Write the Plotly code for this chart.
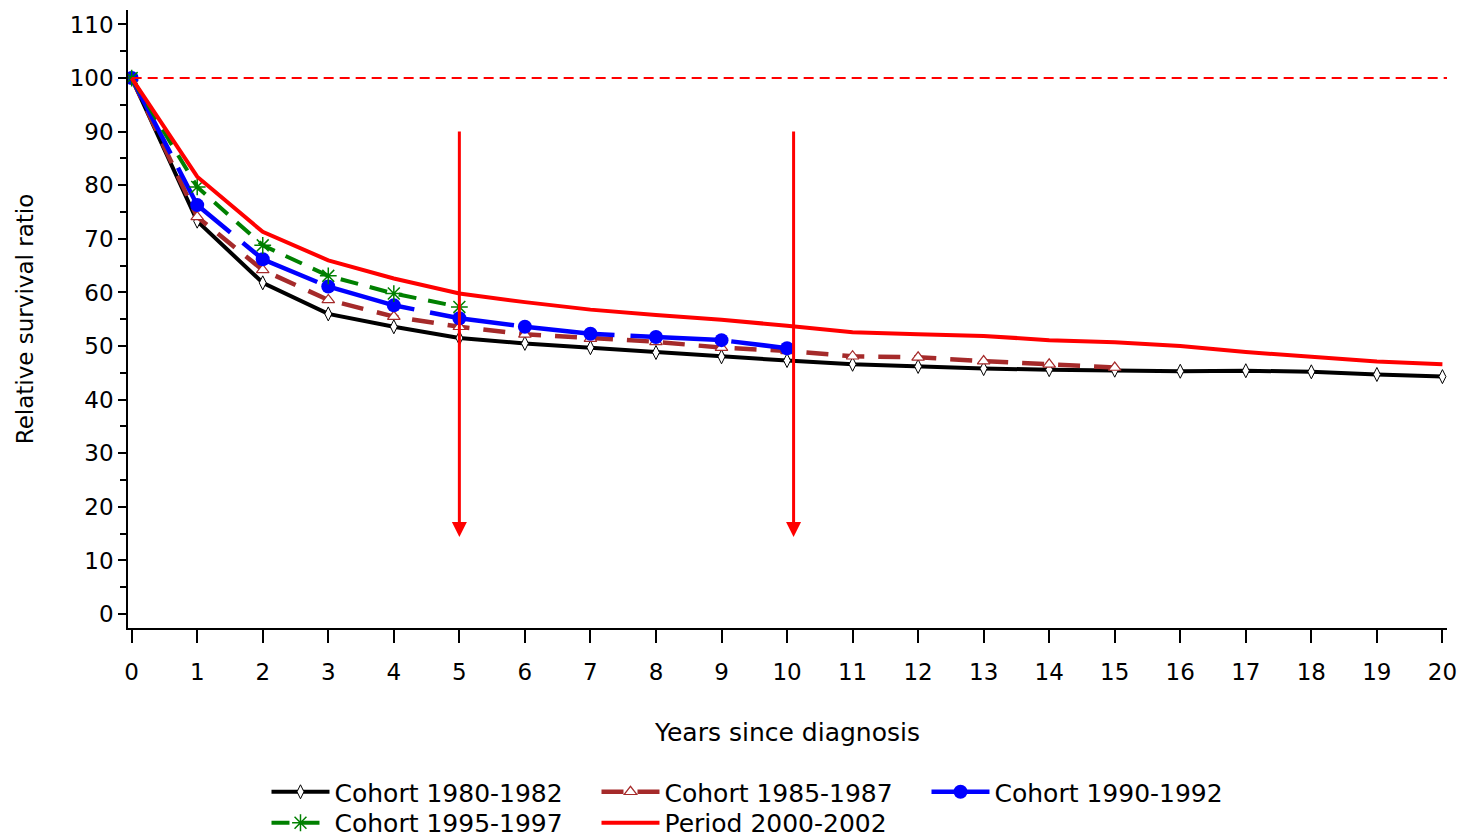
import plotly.graph_objects as go

years = list(range(0, 21))

cohort_1980_1982 = [100, 73.3, 61.8, 56.0, 53.6, 51.5, 50.5, 49.7, 48.8, 48.0, 47.3,
                    46.6, 46.2, 45.8, 45.6, 45.5, 45.3, 45.4, 45.2, 44.7, 44.3]
cohort_1985_1987 = [100, 74.1, 64.2, 58.6, 55.5, 53.6, 52.2, 51.4, 50.8, 49.7, 49.1,
                    48.1, 47.9, 47.2, 46.6, 46.0]
cohort_1990_1992 = [100, 76.3, 66.2, 61.1, 57.6, 55.2, 53.6, 52.3, 51.7, 51.1, 49.6]
cohort_1995_1997 = [100, 79.7, 68.8, 63.1, 59.8, 57.3]
period_2000_2002 = [100, 81.6, 71.3, 66.0, 62.6, 59.8, 58.2, 56.8, 55.8, 54.9, 53.8,
                    52.6, 52.2, 51.9, 51.1, 50.7, 50.0, 48.9, 48.0, 47.1, 46.6]

series_names = ["Cohort 1980-1982", "Cohort 1985-1987", "Cohort 1990-1992",
                "Cohort 1995-1997", "Period 2000-2002"]

reference_level = 100
arrow_years = [5, 10.1]
arrow_top = 90.3
arrow_tip = 14.4

x_tick_values = list(range(0, 21))
y_tick_values = list(range(0, 111, 10))

FONT = "DejaVu Sans"

fig = go.Figure()

fig.add_trace(go.Scatter(
    x=years[:len(cohort_1980_1982)], y=cohort_1980_1982, name=series_names[0],
    mode="lines+markers", legend="legend",
    line=dict(color="black", width=4),
    marker=dict(symbol="diamond-tall", size=10, color="white",
                line=dict(color="black", width=1))))

fig.add_trace(go.Scatter(
    x=years[:len(cohort_1985_1987)], y=cohort_1985_1987, name=series_names[1],
    mode="lines+markers", legend="legend",
    line=dict(color="#A52A2A", width=4.5, dash="22px,14px"),
    marker=dict(symbol="triangle-up", size=11, color="white",
                line=dict(color="#A52A2A", width=1.2))))

fig.add_trace(go.Scatter(
    x=years[:len(cohort_1990_1992)], y=cohort_1990_1992, name=series_names[2],
    mode="lines+markers", legend="legend",
    line=dict(color="#0000FF", width=4.5, dash="85px,16px"),
    marker=dict(symbol="circle", size=14, color="#0000FF")))

fig.add_trace(go.Scatter(
    x=years[:len(cohort_1995_1997)], y=cohort_1995_1997, name=series_names[3],
    mode="lines+markers", legend="legend2",
    line=dict(color="#008000", width=4, dash="18px,12px"),
    marker=dict(symbol="asterisk-open", size=14, color="#008000",
                line=dict(color="#008000", width=1.5))))

fig.add_trace(go.Scatter(
    x=years[:len(period_2000_2002)], y=period_2000_2002, name=series_names[4],
    mode="lines", legend="legend2",
    line=dict(color="#FF0000", width=4)))

# dashed reference line at 100
fig.add_shape(type="line", xref="x", yref="y", x0=0, x1=20.07,
              y0=reference_level, y1=reference_level,
              line=dict(color="#FF0000", width=2, dash="10px,6px"))

# vertical red arrows
for ax_year in arrow_years:
    fig.add_annotation(x=ax_year, y=arrow_tip, ax=ax_year, ay=arrow_top,
                       xref="x", yref="y", axref="x", ayref="y",
                       text="", showarrow=True, arrowhead=2, arrowsize=1,
                       arrowwidth=3, arrowcolor="#FF0000", standoff=0)

legend_common = dict(orientation="h", xanchor="left", yanchor="middle",
                     font=dict(family=FONT, size=25, color="black"),
                     itemwidth=58, entrywidth=257, tracegroupgap=0,
                     bgcolor="rgba(0,0,0,0)")

fig.update_layout(
    width=1460, height=840,
    margin=dict(l=128, r=13, t=10, b=212, autoexpand=False),
    paper_bgcolor="white", plot_bgcolor="white",
    font=dict(family=FONT, color="black", size=23),
    showlegend=True,
    legend=dict(x=0.105, y=-0.2654, **legend_common),
    legend2=dict(x=0.105, y=-0.3155, **legend_common),
    xaxis=dict(range=[-0.056, 20.07], tickvals=x_tick_values, automargin=False,
               showline=True, linecolor="black", linewidth=1.5,
               ticks="outside", ticklen=13, tickwidth=1.5, tickcolor="black",
               showgrid=False, zeroline=False, ticklabelstandoff=10,
               tickfont=dict(size=23),
               title=dict(text="Years since diagnosis", font=dict(size=25), standoff=39)),
    yaxis=dict(range=[-2.6, 112.7], tickvals=y_tick_values, automargin=False,
               showline=True, linecolor="black", linewidth=1.5,
               ticks="outside", ticklen=8, tickwidth=1.5, tickcolor="black",
               minor=dict(dtick=5, ticks="outside", ticklen=6, tickwidth=1.5, tickcolor="black",
                          showgrid=False),
               showgrid=False, zeroline=False,
               tickfont=dict(size=23),
               title=dict(text="Relative survival ratio", font=dict(size=23), standoff=30)),
)

fig.write_html("out.html")
